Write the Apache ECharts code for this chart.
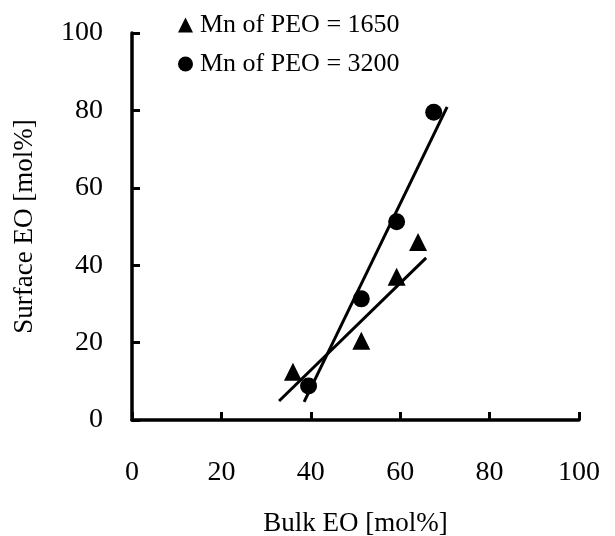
<!DOCTYPE html>
<html>
<head>
<meta charset="utf-8">
<script src="https://cdn.jsdelivr.net/npm/echarts@6/dist/echarts.min.js"></script>
<style>
  html, body { margin: 0; padding: 0; background: #fff; }
  #chart { width: 615px; height: 536px; }
</style>
</head>
<body>
<div id="chart"></div>
<script>
// 数据
const tickLabels = ['0', '20', '40', '60', '80', '100']
const peo1650 = [[36, 12.5], [51.3, 20.5], [59.2, 37], [64, 46]]
const peo3200 = [[39.5, 8.8], [51.3, 31.3], [59.2, 51.2], [67.5, 79.5]]
// 拟合直线端点
const fit1650 = [[32.9, 4.9], [65.8, 41.9]]
const fit3200 = [[38.5, 4.7], [70.5, 80.9]]
const names = ['Mn of PEO = 1650', 'Mn of PEO = 3200']

const font = 'Liberation Serif'
const chart = echarts.init(document.querySelector('#chart'))

function axis(name, gap, margin, rotate) {
    return {
        type: 'value',
        min: 0,
        max: 100,
        interval: 20,
        name: name,
        nameLocation: 'middle',
        nameGap: gap,
        nameRotate: rotate,
        nameTextStyle: { fontFamily: font, fontSize: 27, color: '#000' },
        axisLine: { show: true, lineStyle: { color: '#000', width: 3.5 } },
        axisTick: { show: true, inside: true, length: 8, lineStyle: { color: '#000', width: 3 } },
        axisLabel: {
            margin: margin,
            fontFamily: font,
            fontSize: 28,
            color: '#000',
            formatter: v => tickLabels[v / 20]
        },
        splitLine: { show: false }
    }
}

const option = {
    animation: false,
    backgroundColor: '#fff',
    grid: { left: 132, right: 36, top: 33, bottom: 116, outerBoundsMode: 'none' },
    legend: {
        orient: 'vertical',
        left: 173,
        top: 7,
        itemGap: 13,
        itemWidth: 15,
        itemHeight: 15,
        data: names,
        textStyle: { fontFamily: font, fontSize: 26, color: '#000', padding: [0, 0, 0, 2] }
    },
    xAxis: axis('Bulk EO [mol%]', 90, 39, 0),
    yAxis: axis('Surface EO [mol%]', 94, 29, 90),
    series: [
        {
            name: names[0],
            type: 'scatter',
            symbol: 'triangle',
            symbolSize: 18,
            itemStyle: { color: '#000', opacity: 1 },
            data: peo1650,
            z: 3
        },
        {
            name: names[1],
            type: 'scatter',
            symbol: 'circle',
            symbolSize: 17,
            itemStyle: { color: '#000', opacity: 1 },
            data: peo3200,
            z: 3
        },
        {
            type: 'line',
            showSymbol: false,
            lineStyle: { color: '#000', width: 3 },
            data: fit1650,
            z: 2
        },
        {
            type: 'line',
            showSymbol: false,
            lineStyle: { color: '#000', width: 3 },
            data: fit3200,
            z: 2
        }
    ]
}
chart.setOption(option)
</script>
</body>
</html>
